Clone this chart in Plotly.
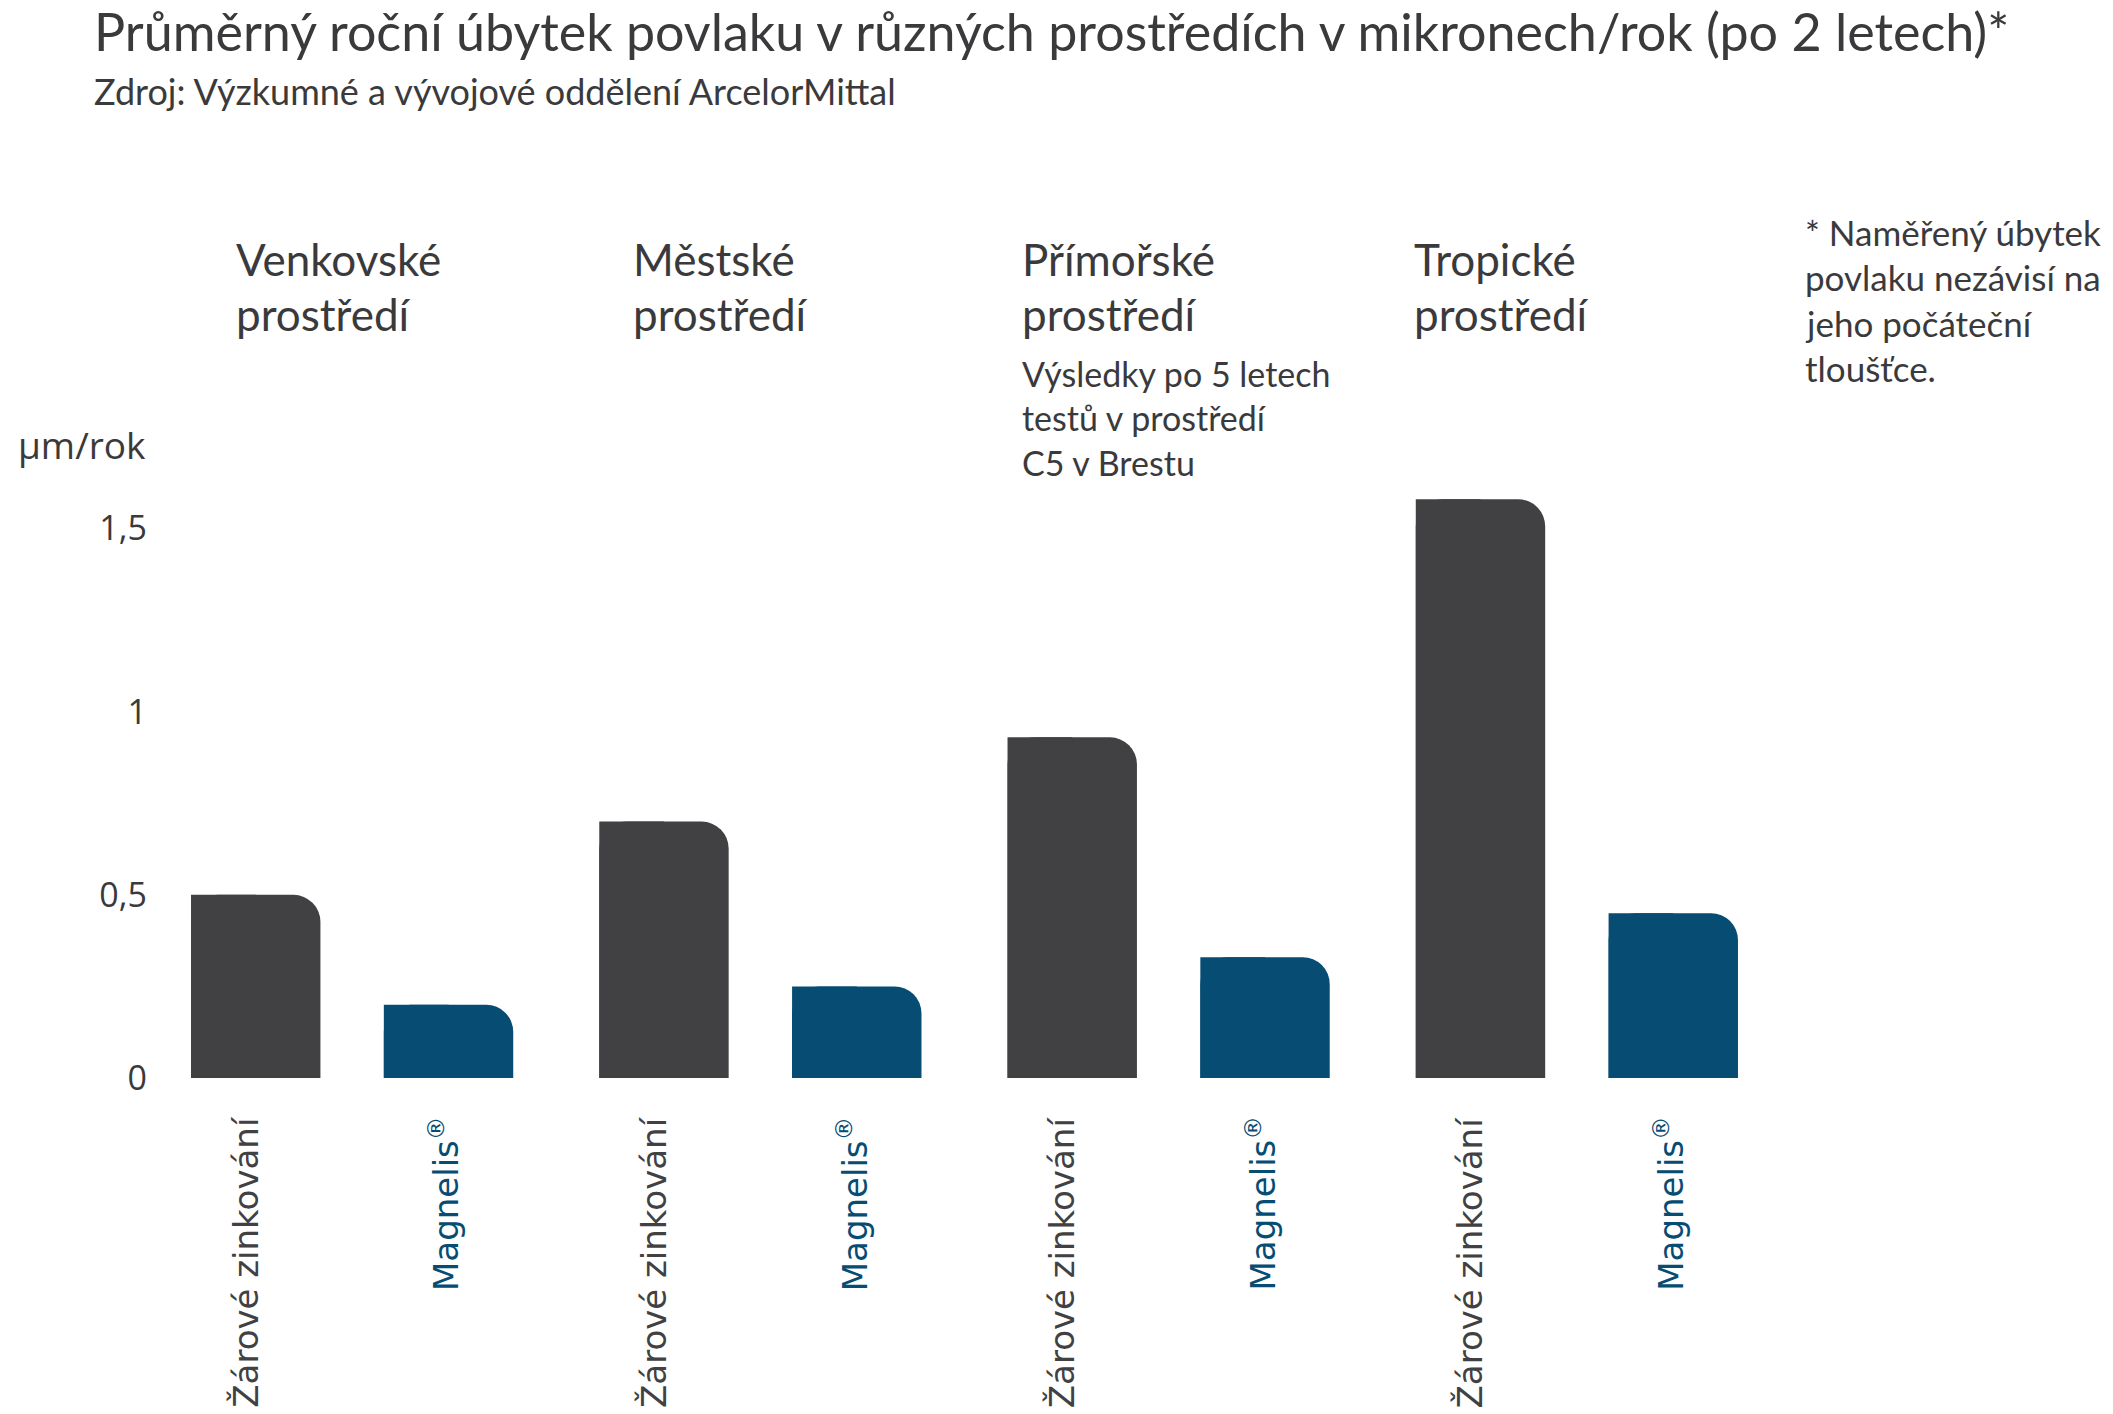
import plotly.graph_objects as go

# chart data
environments = ["Venkovské", "Městské", "Přímořské", "Tropické"]
hot_dip = [0.5, 0.7, 0.93, 1.58]
magnelis = [0.2, 0.25, 0.33, 0.45]
series_names = ["Žárové zinkování", "Magnelis<sup>®</sup>"]
y_tick_vals = [0, 0.5, 1, 1.5]
y_tick_text = ["0", "0,5", "1", "1,5"]
unit_label = "µm/rok"

title = "Průměrný roční úbytek povlaku v různých prostředích v mikronech/rok (po 2 letech)*"
subtitle = "Zdroj: Výzkumné a vývojové oddělení ArcelorMittal"
headers = [
    ["Venkovské", "prostředí"],
    ["Městské", "prostředí"],
    ["Přímořské", "prostředí"],
    ["Tropické", "prostředí"],
]
marine_note = ["Výsledky po 5 letech", "testů v prostředí", "C5 v Brestu"]
footnote = ["* Naměřený úbytek", "povlaku nezávisí na", "jeho počáteční", "tloušťce."]

# look
W, H = 2113, 1414
PAGE_OFF = 8  # the html body margin shifts the figure
L, R, T, B = 148 - PAGE_OFF, 332 + PAGE_OFF, 437 - PAGE_OFF, 336 + PAGE_OFF
PW, PH = W - L - R, H - T - B
CAT_PX = PW / len(environments)

GRAY = "#414143"
BLUE = "#064c73"
TEXT = "#3a3a3c"
HEAD_FONT = "Lato"
TICK_FONT = "Open Sans"
LABEL_FONT = "DejaVu Sans"

BAR_W = 129.4 / CAT_PX
OFFSETS = [(-96.4 - 64.7) / CAT_PX, (96.4 - 64.7) / CAT_PX]
COLORS = [GRAY, BLUE]
LABEL_NUDGE = [-10, -5]


def xp(px):
    return (px - PAGE_OFF - L) / PW


def yp(py):
    return (H - B - (py - PAGE_OFF)) / PH


fig = go.Figure()

for vals, color, off in zip([hot_dip, magnelis], COLORS, OFFSETS):
    # rounded top-right corner: full bar with radius, square left half on top
    fig.add_trace(go.Bar(x=environments, y=vals, width=BAR_W, offset=off,
                         marker=dict(color=color, line_width=0, cornerradius=27),
                         hoverinfo="y"))
    fig.add_trace(go.Bar(x=environments, y=vals, width=BAR_W / 2, offset=off,
                         marker=dict(color=color, line_width=0),
                         hoverinfo="skip"))

ann = []

# per-bar rotated labels
for env in environments:
    for name, color, off, nudge in zip(series_names, COLORS, OFFSETS, LABEL_NUDGE):
        ann.append(dict(x=env, xref="x", y=0, yref="y",
                        xshift=(off + BAR_W / 2) * CAT_PX + nudge, yshift=-36,
                        text=name, textangle=-90, showarrow=False,
                        xanchor="center", yanchor="top",
                        font=dict(family=LABEL_FONT, size=34, color=color)))


def text_lines(lines, x, y0, step, size, family=HEAD_FONT):
    for i, line in enumerate(lines):
        ann.append(dict(x=xp(x), xref="paper", y=yp(y0 + i * step), yref="paper",
                        text=line, showarrow=False, xanchor="left", yanchor="middle",
                        font=dict(family=family, size=size, color=TEXT)))


text_lines([title], 92, 31, 0, 52)
text_lines([subtitle], 92, 91, 0, 36)
for lines, hx in zip(headers, [234, 631, 1020, 1412]):
    text_lines(lines, hx, 259, 55, 44)
text_lines(marine_note, 1020, 373, 44.5, 34)
text_lines(footnote, 1803, 232, 45.3, 35)
text_lines([unit_label], 16, 445, 0, 37, TICK_FONT)

fig.update_layout(
    width=W, height=H,
    margin=dict(l=L, r=R, t=T, b=B, autoexpand=False),
    barmode="overlay",
    showlegend=False,
    plot_bgcolor="white",
    paper_bgcolor="white",
    annotations=ann,
)
fig.update_xaxes(showticklabels=False, showgrid=False, zeroline=False,
                 showline=False, ticks="")
fig.update_yaxes(range=[0, 1.75], tickvals=y_tick_vals, ticktext=y_tick_text,
                 showgrid=False, zeroline=False, showline=False, ticks="",
                 tickfont=dict(family=TICK_FONT, size=34, color=TEXT))

fig.write_html("out.html")
